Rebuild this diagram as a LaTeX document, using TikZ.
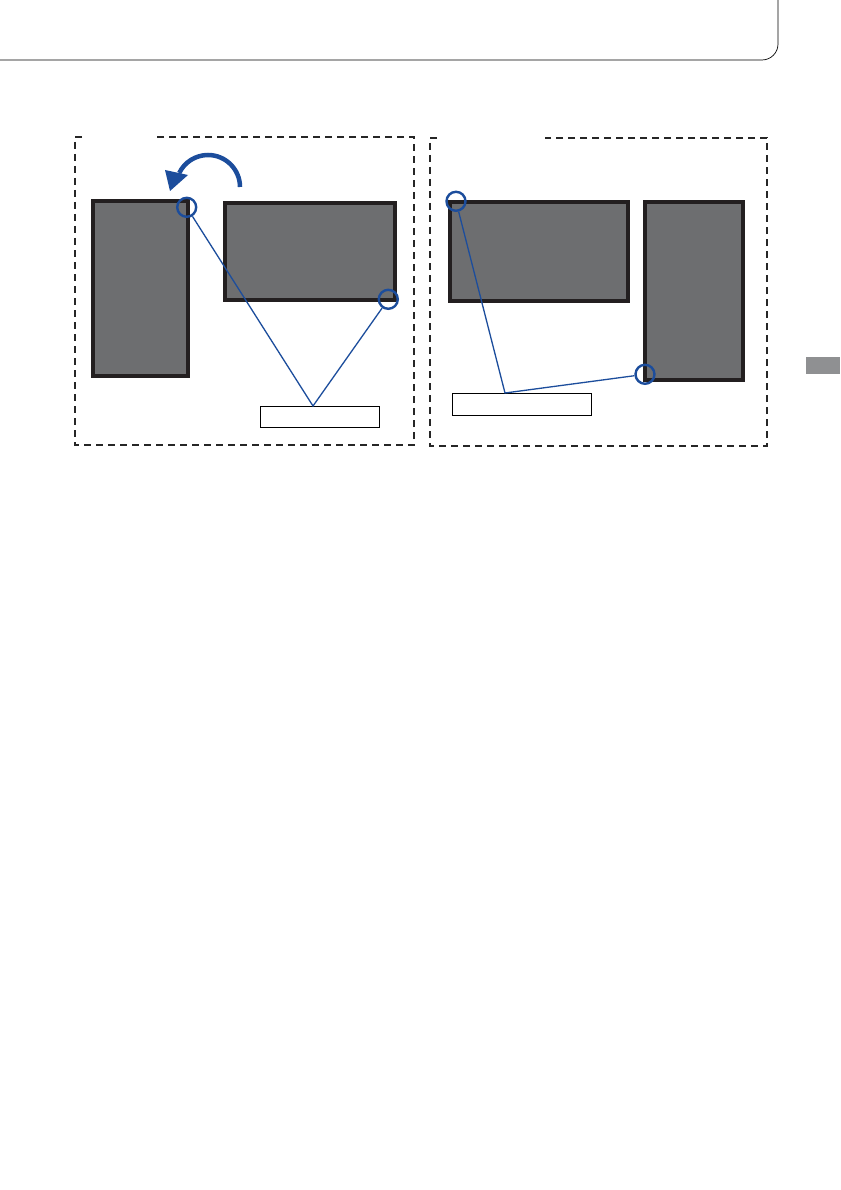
\documentclass[tikz,border=0pt]{standalone}
\usetikzlibrary{calc}
\definecolor{scrgray}{HTML}{6D6E70}
\definecolor{scrframe}{HTML}{231F20}
\definecolor{mblue}{HTML}{1C4D9C}
\definecolor{tabgray}{HTML}{8F9092}
\tikzset{
  screen/.style={draw=scrframe, fill=scrgray, line width=3.5pt, inner sep=0pt, rectangle},
  ring/.style={draw=mblue, circle, line width=2.4pt, minimum size=19pt, inner sep=0pt},
  lead/.style={draw=mblue, line width=1.3pt},
  labelbox/.style={draw=black, line width=0.8pt, fill=white, inner sep=0pt, rectangle},
  panel/.style={draw=black!85, line width=1.6pt, dash pattern=on 7pt off 5pt}
}
\begin{document}
\begin{tikzpicture}[x=1pt,y=-1pt]
\useasboundingbox (0,0) rectangle (840,1190);
\fill[white] (0,0) rectangle (840,1190);
% header rule
\draw[line width=0.7pt, black] (0,60) -- (762,60) arc[start angle=90, end angle=0, radius=16] -- (778,0);
% side tab
\fill[tabgray] (806,357) rectangle (840,374);
% panels
\draw[panel] (82,137) -- (75,137) -- (75,445) -- (414,445) -- (414,137) -- (157,137);
\draw[panel] (437,138) -- (430,138) -- (430,446) -- (767,446) -- (767,138) -- (545,138);
% left panel
\node[screen, minimum width=95pt, minimum height=175pt] (pL) at (140.5,288.5) {};
\node[screen, minimum width=170pt, minimum height=97pt] (lL) at (310,251.5) {};
\node[ring] (c1) at (186.7,207.3) {};
\node[ring] (c2) at (388.3,299.3) {};
\node[labelbox, minimum width=119pt, minimum height=21pt] (labL) at (319.6,416.5) {};
\coordinate (apexL) at (313,406);
\draw[lead] (c1) -- (apexL) -- (c2);
% rotation arrow
\draw[mblue, line width=4.5pt] (240,187) arc[start angle=0, end angle=-154, radius=32];
\fill[mblue] (165,170) -- (188,175) -- (170,191) -- cycle;
% right panel
\node[screen, minimum width=178pt, minimum height=99pt] (lR) at (539,251.5) {};
\node[screen, minimum width=98pt, minimum height=178pt] (pR) at (694,291) {};
\node[ring] (c3) at (456,201.3) {};
\node[ring] (c4) at (645,374.3) {};
\node[labelbox, minimum width=139pt, minimum height=22pt] (labR) at (522,404.3) {};
\coordinate (apexR) at (505,393);
\draw[lead] (c3) -- (apexR) -- (c4);
\end{tikzpicture}
\end{document}
